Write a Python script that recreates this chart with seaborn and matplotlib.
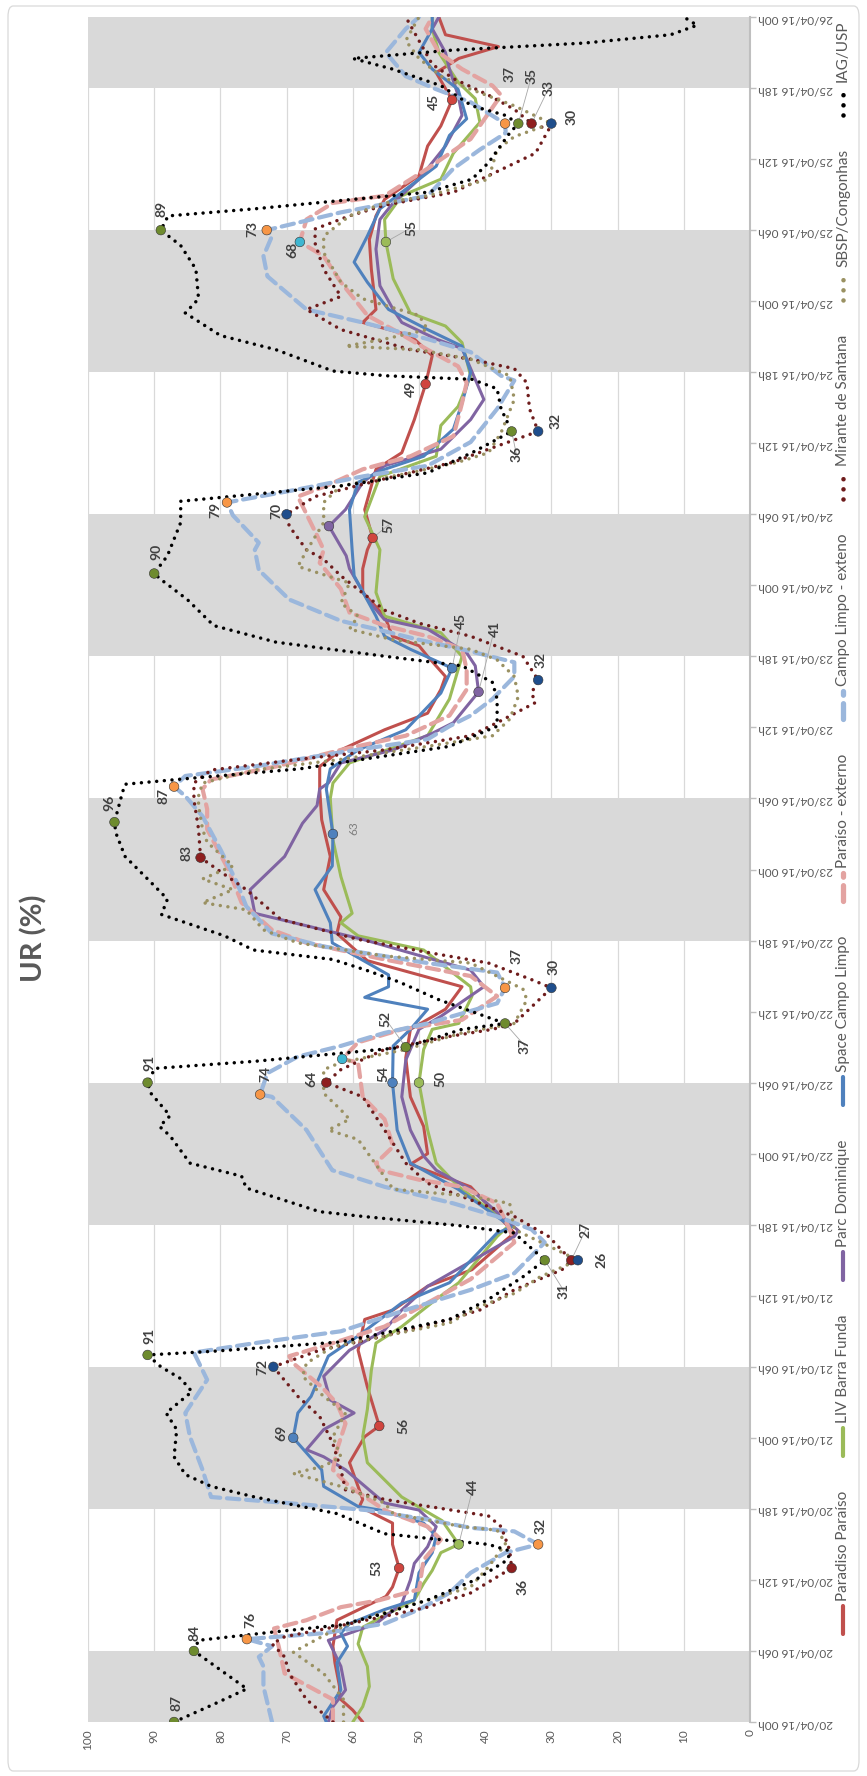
import matplotlib
matplotlib.use("Agg")
import matplotlib.pyplot as plt
import seaborn as sns
from matplotlib.lines import Line2D
from matplotlib.patches import FancyBboxPatch

sns.set_theme(style="white")
plt.rcParams['font.family'] = ['Lato', 'DejaVu Sans']

W, H = 867, 1776

# ---- time axis (hours counted from 20/04/16 00h) ----
night_start = [0, 18, 42, 66, 90, 114, 138]
night_end = [6, 30, 54, 78, 102, 126, 144]
tick_hours = list(range(0, 145, 6))
tick_labels = [f"{20 + h // 24:02d}/04/16 {h % 24:02d}h" for h in tick_hours]
value_ticks = list(range(0, 101, 10))

# ---- relative humidity series ----
paradiso_h = [0, 1, 2, 3, 5, 6.4, 7.5, 8.6, 10.6, 11.4, 13, 15, 16.8, 18.2, 18.8, 21.9, 24.1, 25, 28.3, 31.4,
              34, 34.8, 36.8, 38.2, 40.5, 41.3, 45.2, 47.1, 48, 50.3, 52.8, 56.1, 58.5, 60.2, 62.1, 64.3, 66.6,
              68, 70.3, 73.1, 76.2, 78.8, 80.7, 82.1, 83.8, 85.2, 87.2, 88.3, 90, 90.9, 91.7, 93.4, 95.4, 97.4,
              99, 100, 102.4, 105.8, 107.2, 110, 113, 115.4, 117.1, 118.2, 119.3, 122.7, 125.2, 127.2, 128.6,
              130.6, 133.1, 134.8, 137, 139.3, 140.5, 141.5, 142.5, 144]
paradiso_v = [58.5, 60, 62, 62, 62.7, 63, 62.7, 62.4, 55, 54, 53, 54, 54, 59, 58.5, 60.5, 58.2, 56, 57.8, 59.2,
              58.2, 53.9, 48.7, 42, 37.3, 35.6, 42.2, 51.3, 48.7, 49.3, 51.3, 52, 51.3, 46, 43.5, 57.8, 62.4,
              61.8, 64.4, 63.4, 64.7, 65, 65, 61.8, 55.2, 48.7, 46.7, 46, 48.7, 50, 54, 55.2, 58.5, 58.5,
              57.8, 57, 58.2, 56.5, 52.6, 50.7, 49, 48, 51.3, 58.5, 56.5, 57.2, 57.5, 56.5, 55.2,
              50, 48.7, 46.7, 45, 47.4, 44, 38, 46, 47]

liv_h = [0, 1.3, 3, 4.7, 6.6, 8, 9, 10.3, 11.7, 12.8, 14.3, 15, 17, 19, 21.9, 24.1, 26.4, 29.7, 32, 33.4,
         35.7, 37.1, 41, 42, 45.2, 47.2, 50, 54, 56.8, 58.5, 59, 61.3, 62.1, 65.2, 66.4, 67.5, 68.3, 71.4,
         74.5, 78, 79.3, 81, 83.3, 86.4, 90, 92, 93.4, 95.4, 99, 101.8, 105.2, 106.9, 109.5, 111.1, 113.7,
         116.5, 117.9, 119, 121.9, 125, 126.9, 128.9, 130.3, 132.5, 135.1, 137.1, 138.5, 139.6, 141, 143, 144]
liv_v = [60, 58.5, 57.5, 57.8, 59.2, 58.5, 55.2, 50.7, 49.3, 48, 46.7, 44, 46.5, 52.6, 57.8, 58.5, 57.8, 57.2,
         56.5, 52.6, 47.4, 44, 38.2, 36.3, 44, 47.4, 48.7, 50, 49.3, 48, 44, 42, 42.2, 49.3, 59.2, 61.8, 60.1,
         61.8, 63, 63.4, 63, 60.5, 48.7, 45.4, 43.5, 46.7, 55.2, 56.5, 55.9, 58.2, 55.9, 47.4, 46.7, 44.1,
         42.2, 43.5, 46, 51.3, 53.9, 55, 55.2, 52.6, 46.7, 44.8, 40.8, 41.5, 44.1, 45.4, 47, 48, 48]

parc_h = [0, 1.3, 2.7, 4.7, 6.9, 7.5, 8.3, 10, 12, 13.4, 14.8, 16.5, 17.9, 18.5, 21.3, 22.4, 23, 24.7, 26.1,
          27.2, 29.2, 31.4, 33.1, 34.8, 36.8, 41, 41.5, 45, 46.6, 47.8, 50, 52.8, 55.9, 58.5, 59.6, 62.1,
          63.5, 66.1, 68.3, 70.3, 73.1, 75.9, 77.4, 78.8, 79.3, 81, 82.1, 83.5, 84.4, 87, 89.2, 90.3, 92.3,
          93.1, 94.8, 97.4, 98.5, 101, 102.4, 104.7, 106.1, 107.5, 110, 111.7, 114.3, 116, 116.8, 118.2,
          119.3, 121.3, 124.4, 126.9, 128.3, 130.3, 133.1, 135.7, 137.4, 139.6, 141, 143, 144]
parc_v = [63.7, 63, 61.1, 61.8, 63.7, 60.5, 56.5, 52.6, 51.3, 50.7, 48.7, 47.4, 50, 55.2, 61.1, 64.4, 67, 64.4,
          59.8, 63.4, 64.4, 60.5, 55.2, 52.6, 48.7, 35.6, 35, 42.2, 47.4, 49.3, 51.3, 52.6, 52, 50, 46.7,
          40.2, 42.2, 58.5, 74.8, 75.5, 70.3, 67.6, 65.4, 65, 63.7, 61.8, 53.9, 48, 44.8, 41, 41.5, 42.8,
          48.7, 55.2, 57.8, 60.5, 61, 63.6, 61.1, 58.5, 55.2, 46.7, 42.2, 40.2, 42.2, 43.5, 47.4, 52.6, 53.9,
          55.9, 56.5, 55.9, 53.9, 50, 46, 43.5, 44.1, 45.4, 46, 48, 47]

space_h = [0, 0.5, 2.7, 5, 6.4, 7.5, 8.3, 9.5, 10.3, 12.6, 14.3, 15.7, 16.8, 17.9, 18.2, 19.9, 21.3, 22.1, 24,
           26.1, 27.5, 30.9, 32.6, 35.4, 37.1, 41.3, 41.8, 45, 47.2, 50, 54, 57.1, 58.5, 60.2, 61.2, 62.1,
           63.1, 65.8, 67.5, 70.3, 72.3, 75, 78.8, 80.5, 82.1, 83.8, 86.9, 89, 90.6, 91.7, 93.4, 96.8, 99,
           102.4, 104.7, 105.8, 106.9, 109.2, 111.4, 114, 116.2, 117.6, 119.3, 121.6, 123.3, 125.5, 127.8,
           128.9, 131.4, 134, 135.4, 137.9, 139.6, 141, 143, 144]
space_v = [64, 64.4, 61.8, 62.4, 60.8, 61.8, 60.5, 55.2, 50.7, 50, 48, 47.4, 49.3, 55.9, 59.2, 64.4, 64.7, 66,
           69, 68.3, 66.3, 63.7, 59.2, 52.6, 45.4, 38.2, 36, 44.1, 51.3, 53.3, 54, 53.9, 51.3, 48.7, 58.2,
           54.6, 54.6, 63.1, 63.4, 65.7, 63.1, 63, 64, 63.4, 59.2, 52, 46.7, 45, 51.3, 55.2, 56.5, 59.8, 60.1,
           60.5, 59.2, 55.2, 49.3, 44.8, 43.5, 42.2, 43.5, 48.7, 54.6, 57.8, 59.8, 57.8, 55.9,
           53.3, 47.4, 45.4, 42.8, 44.1, 48, 50, 48, 48]

pext_h = [0, 1.9, 4.1, 6.4, 7.9, 8.6, 9.7, 10.3, 11.2, 13.7, 15.4, 16.5, 17.6, 17.9, 19.9, 21.3, 23, 25.2,
          26.9, 28.3, 30.3, 30.9, 32, 33.4, 35.4, 37.4, 40.5, 41.6, 43.8, 45.2, 45.8, 46.6, 47.2, 48.6, 50.9,
          52.8, 55.7, 56, 57.4, 58.5, 59.3, 61.3, 63, 64.4, 65.8, 66.9, 69.2, 72, 75.4, 77.1, 78.8, 79.6,
          80.7, 82.1, 83.3, 85, 87.2, 88.9, 90.6, 91.7, 92.6, 93.7, 95.7, 97.9, 99, 100.2, 103.5, 104.4,
          105.8, 106.9, 108.6, 111.4, 113.1, 114.5, 115.9, 117.6, 118.8, 121.6, 123.8, 125, 126.9, 128.3,
          128.9, 131.2, 133.7, 137.4, 138.2, 139.6, 141, 143, 144]
pext_v = [63, 63, 70.3, 71.2, 71.9, 67, 61.8, 55.9, 50, 49.3, 46.7, 48.7, 53.9, 55.2, 60.5, 63, 62.4, 61.1,
          62.4, 64.7, 69, 69.6, 63, 55.2, 48.7, 42.2, 35.6, 36.3, 38.2, 43.5, 50, 55.9, 56.5, 53.9, 55.2,
          58.5, 59.2, 61.6, 59.2, 52.6, 43.5, 38.2, 42.2, 55.2, 67, 72.2, 76.8, 78.8, 82, 82, 82.7, 81.4,
          71.6, 61.8, 52, 45.4, 42.8, 42.8, 43.5, 48.7, 55.2, 60.5, 61.8, 65, 64.4, 65.4, 68.3, 64,
          58.5, 51.3, 44.8, 43.5, 42.8, 44.1, 48.7, 53.9, 57.8, 61.8, 64.4, 68, 67, 63,
          55.2, 48.7, 42.2, 37.6, 38.9, 43.5, 47, 49, 48]

cext_h = [0, 3, 4.7, 5.5, 6.4, 7, 7.5, 8.3, 9.5, 10.9, 12.6, 14.3, 15, 16.1, 16.4, 17.1, 17.9, 18.5, 19, 21.3,
          24.1, 26.1, 28.9, 31.2, 32, 33, 34.8, 36.5, 37.9, 40.5, 41.6, 42.7, 43.8, 45.2, 46.6, 50, 52.8, 53,
          54.8, 56.2, 57.1, 58.2, 59, 60.7, 62, 63.3, 64.1, 65.5, 66.6, 68.9, 70.9, 73.7, 76.5, 78.2, 79,
          79.9, 80.7, 81.9, 83, 84.1, 85, 86.4, 88.3, 89.5, 90.6, 91.4, 92.3, 93, 94.8, 97.3, 99, 99.6,
          101.9, 103, 104.1, 105.2, 106.1, 108.1, 110.9, 113.3, 113.7, 115.7, 116.8, 118.2, 119.3, 122.1,
          123.8, 125.5, 126, 127.5, 128.9, 131.2, 132.8, 134.2, 135, 136.8, 137.9, 139, 141, 143, 144]
cext_v = [72.2, 73.5, 73.5, 74.2, 72.2, 76, 64.4, 55.2, 50, 45.4, 42.2, 36.9, 32, 35.6, 42.2, 48.7, 58, 70,
          81.4, 82.7, 84.6, 85.3, 82, 84, 74.8, 61.8, 52, 42.2, 35.6, 31, 33, 38.2, 44.8, 55.2, 63.1, 67,
          72.2, 74, 72.9, 68.3, 61.8, 55.2, 48.7, 38.2, 37, 38.2, 48.7, 64.4, 72.2, 76.1, 77.5, 80, 82.7,
          85.3, 87, 85.3, 74.8, 61.8, 48.7, 45.4, 42.2, 38.9, 35.6, 35.6, 43.5, 50, 56.5, 61.8, 69.6, 74.2,
          74.8, 74.2, 78.1, 79, 68.3, 58.5, 48.7, 42.2, 38.2, 35.6, 37.6, 42.2, 48.7, 58.5, 67, 72.9,
          73.5, 72.2, 73, 61.8, 48.7, 44.8, 40.8, 36.9, 37, 42.2, 47.4, 52, 55, 52, 50]

mirante_h = [0, 1.9, 4.1, 5.5, 6.6, 7.2, 8, 9.7, 10.9, 13, 14.5, 16.5, 17.4, 18.8, 19.6, 21.3, 23.5, 25.8,
             27.5, 30, 31.4, 32.6, 34, 34.8, 36.5, 38.2, 39, 41, 42.7, 44.1, 45.5, 47.2, 50, 52.8, 54, 55.1,
             56.8, 57.9, 58.5, 59, 62, 62.7, 64.1, 65, 66.1, 67.8, 70.3, 73, 75.4, 77.9, 79.3, 80.4, 81.3,
             82.1, 83.3, 84.4, 86.1, 86.9, 88, 90, 91.7, 92.8, 93.9, 96.8, 98.2, 99, 101, 102, 103.5, 105,
             106.4, 107.5, 109, 110.9, 113.1, 114.3, 115.1, 115.9, 117.6, 119.3, 120.4, 122.7, 124.9, 126.1,
             127.2, 128.1, 129.2, 130.6, 132.5, 134.5, 135, 136.2, 137.4, 138.8, 140, 142, 144]
mirante_v = [63, 67, 69.6, 70.3, 72.2, 70.3, 63, 48.7, 42.2, 36, 36.3, 37.6, 39.5, 55.2, 61.1, 61.8, 63, 65,
             68.3, 72, 65, 55.2, 45.4, 40.8, 35.6, 28.4, 27, 30.4, 35.6, 42.2, 48.7, 52, 55.2, 58.5, 64, 61.8,
             55.2, 45.4, 38.9, 35.6, 30, 33, 39.5, 48.7, 59.2, 70.9, 76.1, 83, 83.3, 84, 84, 81.4, 68.3,
             55.2, 42.2, 38.2, 32.4, 33, 32, 34.3, 42.2, 50, 55.2, 61.8, 64.4, 67, 69.6, 70, 65.7, 55.2,
             44.8, 39.5, 32, 33.3, 33.7, 35.6, 42.2, 51.3, 61.8, 67, 61.8, 64.4, 65.7, 65.7,
             60.5, 55.2, 44.8, 39.5, 32.4, 30.4, 33, 35.6, 39.5, 44.8, 48, 50, 52]

sbsp_h = [0, 1.9, 4.1, 5.9, 6.9, 7.5, 8.6, 10.3, 11.4, 12.3, 13.1, 15.1, 16.2, 16.5, 17.6, 18.5, 19.9, 21,
          21.6, 22.4, 24.1, 26.1, 27.5, 29.2, 30.3, 31.7, 32.6, 33.7, 35.1, 36.2, 37.6, 39, 40.2, 41.6, 43.8,
          44.4, 45, 46.6, 49.2, 50, 50.9, 51.7, 53.1, 55.1, 55.7, 56.8, 58.2, 59, 61, 61.9, 64.1, 64.7,
          65.8, 66.9, 68.6, 69.2, 70.3, 71.2, 72.3, 74.3, 75.4, 77.4, 78.2, 79.3, 80.4, 81.3, 82.4, 83.3,
          84.7, 86.6, 88.3, 89.7, 90.6, 91.4, 92.3, 93.4, 94.5, 96.2, 97.6, 98.9, 101.3, 103, 104.4, 105.5,
          106.4, 107.2, 108.9, 111.7, 113.7, 115.1, 115.9, 116.2, 116.8, 117.6, 118.8, 120.2, 121.6, 124.1,
          125.5, 127.2, 128.3, 128.9, 130.3, 132.8, 133.9, 135, 136.5, 137.9, 139, 140.5, 142, 144]
sbsp_v = [61.4, 61.4, 64.4, 69, 65.7, 63.7, 59.2, 48.7, 42.2, 40.8, 39.5, 36.9, 38.2, 43.5, 53.9, 55.2, 61.8,
          69, 64.4, 61.8, 63, 61.1, 64.4, 67.6, 67, 63, 55.2, 45.4, 40.8, 35.6, 31.7, 26, 30.4, 35.6, 36.3,
          42.2, 53.9, 55.9, 59.2, 63.7, 60.5, 61.8, 64.4, 64.4, 61.8, 52, 43.5, 35.6, 33.7, 34.3, 42.2, 55.2,
          68.3, 73.5, 76.1, 82.7, 78.1, 82.7, 78.1, 82, 82.7, 83.3, 83.3, 82.7, 74.8, 61.8, 48.7, 38.9,
          36.3, 35, 35.6, 38.2, 42.2, 53.9, 60.5, 59.2, 61.8, 60.5, 68.3, 67, 64.4, 64.4, 61.8, 51.3,
          44.1, 39.5, 37.6, 35.6, 36.3, 42.2, 50, 61.1, 55.2, 48.7, 50, 58.5, 61.8, 64.4,
          64.4, 60.5, 55.2, 48.7, 39.5, 38.2, 35.6, 30, 35.6, 42.2, 46.7, 50, 52, 50]

iag_h = [0, 1.5, 2.8, 4.4, 6, 6.9, 7.6, 8.2, 9.2, 10.3, 12, 13.7, 14.3, 14.5, 15, 15.4, 15.9, 17.6, 19, 19.9,
         20.9, 22.4, 24.7, 26.1, 27.9, 29, 30, 31, 31.3, 32.1, 34, 35.7, 37.6, 39, 41.3, 41.9, 42.7, 43.1,
         45.1, 46.1, 47.2, 49.5, 50.3, 51.2, 53.1, 54, 55.2, 55.8, 57, 58.5, 59, 60, 61, 62.5, 63.5, 64.4,
         65.2, 66.4, 68.2, 69.5, 71.2, 73.1, 75.1, 76, 78.5, 79.2, 79.6, 80.5, 81.6, 82.4, 84.1, 86.4, 87.8,
         89.2, 90, 91.2, 92.6, 94.8, 96.5, 97, 98.5, 101.3, 103.1, 103.7, 104.4, 105.5, 107.2, 109, 110.9,
         112.6, 113.4, 113.7, 114.1, 115.9, 117.1, 119, 120.2, 122.7, 124.7, 126, 127.2, 127.8, 128.5,
         129.2, 130.3, 131.7, 134.2, 135, 135.7, 136.5, 138.2, 139.6, 140.5, 141.2, 141.8, 142.5, 143.3, 144]
iag_v = [87, 81, 76, 80, 84, 83.3, 72, 61.8, 55, 48.7, 41.5, 36.6, 36.3, 36.6, 39.5, 46.7, 55.2, 62.4, 74.8,
         81.4, 85.3, 87, 86.6, 88.2, 84.3, 86, 89, 91, 81.4, 61.8, 45.4, 39.5, 34.3, 31, 35.6, 43.5, 58.5,
         65, 76.1, 76.8, 84.6, 87.6, 89.2, 87.6, 90.5, 91, 89.9, 74.8, 52, 43.5, 37, 42, 47, 53, 58, 63,
         75, 79.4, 88.9, 88, 91, 94.4, 95.8, 96, 94.8, 94.4, 86.6, 68, 55, 45.4, 38.2, 38.2, 38.9,
         43.5, 55, 71.6, 81, 85, 89, 90, 88, 86, 86, 74.8, 61.8, 48.7, 42, 36, 37.6,
         38.2, 42, 55, 63, 71.6, 80, 85.3, 83.3, 83.7, 86, 89, 87.9, 74.8, 61.8,
         48.7, 42, 39.5, 36.3, 35, 37, 42, 46.7, 54, 60, 45, 25, 12, 8, 10]

series = [
    ("Paradiso Paraíso", paradiso_h, paradiso_v),
    ("LIV Barra Funda", liv_h, liv_v),
    ("Parc Dominique", parc_h, parc_v),
    ("Space Campo Limpo", space_h, space_v),
    ("Paraíso - externo", pext_h, pext_v),
    ("Campo Limpo - exteno", cext_h, cext_v),
    ("Mirante de Santana", mirante_h, mirante_v),
    ("SBSP/Congonhas", sbsp_h, sbsp_v),
    ("IAG/USP", iag_h, iag_v),
]

# ---- highlighted values ----
ann_value = [87, 84, 76, 53, 36, 32, 44, 91, 72, 69, 56, 31, 27, 26, 91, 74, 64, 54, 50, 52, 37, 37, 30,
             63, 83, 96, 87, 90, 45, 41, 32, 49, 36, 32, 79, 70, 57, 89, 73, 68, 55, 45, 37, 35, 33, 30]
ann_hour = [0, 6, 7, 13, 13, 15, 15, 31, 30, 24, 25, 39, 39, 39, 54, 53, 54, 54, 54, 57, 59, 62, 62,
            75, 73, 76, 79, 97, 89, 87, 88, 113, 109, 109, 103, 102, 100, 126, 126, 125, 125, 137, 135,
            135, 135, 135]
plain_value = [61.6, 63.6]
plain_hour = [56, 101]

# ---- styles ----
GREEN_M, ORANGE_M, DRED_M, NAVY_M = "#6E8B2E", "#F79646", "#8E1F1F", "#1F4E8C"
RED_M, LGREEN_M, BLUE_M, CYAN_M, PURPLE_M = "#D0453F", "#9BBB59", "#4F81BD", "#3FB6D1", "#8064A2"
ann_color = [GREEN_M, GREEN_M, ORANGE_M, RED_M, DRED_M, ORANGE_M, LGREEN_M, GREEN_M, NAVY_M, BLUE_M, RED_M,
             GREEN_M, DRED_M, NAVY_M, GREEN_M, ORANGE_M, DRED_M, BLUE_M, LGREEN_M, GREEN_M, GREEN_M,
             ORANGE_M, NAVY_M, BLUE_M, DRED_M, GREEN_M, ORANGE_M, GREEN_M, BLUE_M, PURPLE_M, NAVY_M, RED_M,
             GREEN_M, NAVY_M, ORANGE_M, NAVY_M, RED_M, GREEN_M, ORANGE_M, CYAN_M, LGREEN_M, RED_M,
             ORANGE_M, GREEN_M, DRED_M, NAVY_M]
# label anchor (value, hour) and whether a thin leader line is drawn
label_pos = [(86.6, 1.6), (83.9, 7.5), (75.5, 8.6), (56.5, 13), (34.3, 11.4), (31.7, 16.6), (41.8, 19.9),
             (90.8, 32.6), (73.7, 30), (70.8, 24.4), (52.3, 25), (28.1, 36.4), (24.8, 41.6), (22.5, 39),
             (90.7, 55.7), (73.2, 54.7), (66.3, 54.3), (55.4, 54.7), (46.7, 54.3), (55.1, 59.4),
             (34.0, 57.1), (35.3, 64.7), (29.7, 63.8), (59.8, 75.5), (85.1, 73.4), (96.7, 77.6),
             (88.6, 78.2), (89.7, 98.8), (43.6, 93), (38.6, 92.3), (31.7, 89.7), (51.2, 112.6),
             (35.3, 107.1), (29.4, 109.9), (80.8, 102.4), (71.6, 102.3), (54.6, 101.1), (88.9, 127.8),
             (75.2, 126.1), (69.1, 124.3), (51.2, 126.2), (47.7, 136.8), (36.3, 139.2), (33.0, 139.0),
             (30.4, 138.0), (26.9, 135.6)]
leader = {6, 11, 12, 19, 20, 28, 29, 32, 36, 40, 43, 44}

line_styles = {
    "Paradiso Paraíso": dict(color="#C0504D", linewidth=2.2, linestyle="-"),
    "LIV Barra Funda": dict(color="#9BBB59", linewidth=2.2, linestyle="-"),
    "Parc Dominique": dict(color="#8064A2", linewidth=2.2, linestyle="-"),
    "Space Campo Limpo": dict(color="#4F81BD", linewidth=2.2, linestyle="-"),
    "Paraíso - externo": dict(color="#E3A3A1", linewidth=3.0, linestyle=(0, (3.0, 1.6))),
    "Campo Limpo - exteno": dict(color="#9BB7DC", linewidth=3.0, linestyle=(0, (3.0, 1.6))),
    "Mirante de Santana": dict(color="#6E1C1C", linewidth=2.5, linestyle=(0, (0.01, 2.2))),
    "SBSP/Congonhas": dict(color="#9A9162", linewidth=2.5, linestyle=(0, (0.01, 2.2))),
    "IAG/USP": dict(color="#000000", linewidth=2.5, linestyle=(0, (0.01, 2.2))),
}

TEXT = "#595959"
GRID = "#D9D9D9"

fig = plt.figure(figsize=(W / 100, H / 100), dpi=100)
fig.patch.set_facecolor("white")
ax = fig.add_axes([88 / W, 54 / H, 662 / W, 1705 / H])
ax.set_facecolor("white")

# night shading
for s, e in zip(night_start, night_end):
    ax.axhspan(s, e, color=GRID, lw=0, zorder=1)

for i, (name, hh, vv) in enumerate(series):
    st = line_styles[name]
    sns.lineplot(x=vv, y=hh, orient="y", sort=False, estimator=None, ax=ax,
                 dash_capstyle="round", solid_capstyle="round", solid_joinstyle="round",
                 zorder=3 + i, **st)

# value labels
for i, (v, h, c) in enumerate(zip(ann_value, ann_hour, ann_color)):
    lv, lh = label_pos[i]
    if i in leader:
        ax.plot([v, lv], [h, lh], color="#A6A6A6", lw=0.6, zorder=14)
    small = (v == 63 and h == 75)
    ax.text(lv, lh, str(v), rotation=90, ha="center", va="center", zorder=16,
            fontsize=8.5 if small else 10, fontweight="normal" if small else "bold",
            color="#7F7F7F" if small else "#404040")
ax.scatter(ann_value, ann_hour, s=48, c=ann_color, edgecolors="#333333", linewidths=0.4, zorder=15)
ax.scatter(plain_value, plain_hour, s=48, c=[CYAN_M, PURPLE_M], edgecolors="#333333", linewidths=0.4,
           zorder=15)

ax.set_xlim(100, 0)
ax.set_ylim(0, 144)
ax.set_xticks(value_ticks)
ax.set_xticklabels([str(t) for t in value_ticks])
ax.set_yticks(tick_hours)
ax.set_yticklabels(tick_labels)
ax.yaxis.tick_right()
ax.grid(axis="x", color=GRID, lw=0.9)
ax.grid(axis="y", visible=False)
ax.set_axisbelow(True)
for side in ["top", "bottom", "left"]:
    ax.spines[side].set_visible(False)
ax.spines["right"].set_color("#BFBFBF")
ax.spines["right"].set_linewidth(1.5)
ax.tick_params(axis="x", length=0, pad=5, labelsize=8.5, labelcolor=TEXT, labelrotation=90)
ax.tick_params(axis="y", length=4, width=1, color="#BFBFBF", direction="out", pad=2,
               labelsize=8.5, labelcolor=TEXT, labelrotation=180)
ax.set_xlabel("")
ax.set_ylabel("")

# title
fig.text(34 / W, 1 - 938 / H, "UR (%)", rotation=90, ha="center", va="center",
         fontsize=21, fontweight="bold", color=TEXT)

# legend, stacked from bottom to top along the right edge
renderer = fig.canvas.get_renderer()
leg_x = 843 / W
line_len, gap = 28, 5
names = [s[0] for s in series]
leg_texts, leg_len = [], []
for name in names:
    t = fig.text(leg_x, 0.5, name, rotation=90, rotation_mode="anchor", ha="left", va="center",
                 fontsize=11, color=TEXT)
    leg_texts.append(t)
    leg_len.append(t.get_window_extent(renderer).height)
y_bottom, y_top = 1634, 20
spacing = (y_bottom - y_top - sum(leg_len) - len(names) * (line_len + gap)) / (len(names) - 1)
y = y_bottom
for name, t, ln in zip(names, leg_texts, leg_len):
    st = line_styles[name]
    seg = Line2D([leg_x, leg_x], [1 - y / H, 1 - (y - line_len) / H], transform=fig.transFigure,
                 color=st["color"], linewidth=st["linewidth"] + 0.8, linestyle=st["linestyle"],
                 dash_capstyle="round", solid_capstyle="round")
    fig.add_artist(seg)
    t.set_position((leg_x, 1 - (y - line_len - gap) / H))
    y = y - line_len - gap - ln - spacing

# chart frame
frame = FancyBboxPatch((8 / W, 5 / H), 851 / W, 1765 / H, boxstyle="round,pad=0,rounding_size=0.006",
                       transform=fig.transFigure, fill=False, edgecolor=GRID, lw=0.9)
fig.add_artist(frame)

fig.savefig("out.png", dpi=100, facecolor="white")
